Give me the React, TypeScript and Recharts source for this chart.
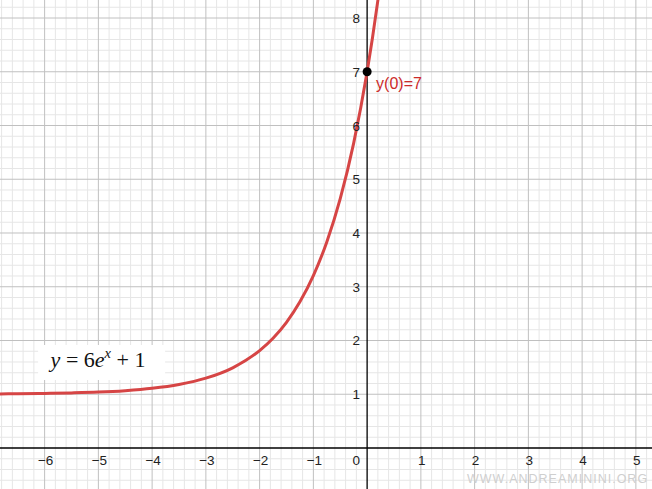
import React from "react";
import { ComposedChart, Line, XAxis, YAxis, ReferenceLine, ReferenceDot } from "recharts";

// Curve points: y = 6e^x + 1
const curveX = [-6.83, -6.5, -6, -5.5, -5, -4.5, -4, -3.5, -3, -2.5, -2, -1.75, -1.5, -1.25, -1, -0.75, -0.5, -0.25, 0, 0.1, 0.2, 0.25];
const curveY = [1.006, 1.009, 1.015, 1.025, 1.04, 1.067, 1.11, 1.181, 1.299, 1.492, 1.812, 2.042, 2.339, 2.719, 3.207, 3.834, 4.639, 5.673, 7.0, 7.631, 8.328, 8.704];

const xTickLabels = [-6, -5, -4, -3, -2, -1, 1, 2, 3, 4, 5];
const yTickLabels = [1, 2, 3, 4, 5, 6, 7, 8];
const xMajor = [-6, -5, -4, -3, -2, -1, 1, 2, 3, 4, 5];
const yMajor = [1, 2, 3, 4, 5, 6, 7, 8];

const xDomain: [number, number] = [-6.83, 5.3];
const yDomain: [number, number] = [-0.763, 8.335];

const pointX = 0;
const pointY = 7;
const pointLabel = "y(0)=7";

const data = curveX.map((x, i) => ({ x, y: curveY[i] }));

const xMinor: number[] = [];
for (let i = -34; i <= 26; i++) if (i % 5 !== 0) xMinor.push(i / 5);
const yMinor: number[] = [];
for (let i = -3; i <= 41; i++) if (i % 5 !== 0) yMinor.push(i / 5);

const minus = (n: number) => (n < 0 ? "\u2212" + Math.abs(n) : String(n));
const FONT = "'Liberation Sans', Arial, sans-serif";
const RED = "#d64545";

export default function App() {
  return (
    <div style={{ position: "absolute", left: 0, top: 0, width: 652, height: 489, background: "#fff" }}>
      <ComposedChart width={652} height={489} data={data} margin={{ top: 0, right: 0, bottom: 0, left: 0 }}>
        <XAxis type="number" dataKey="x" domain={xDomain} hide allowDataOverflow />
        <YAxis type="number" domain={yDomain} hide allowDataOverflow />
        {xMinor.map((v) => (
          <ReferenceLine key={"xm" + v} x={v} stroke="#e6e6e6" strokeWidth={1} ifOverflow="hidden" />
        ))}
        {yMinor.map((v) => (
          <ReferenceLine key={"ym" + v} y={v} stroke="#e6e6e6" strokeWidth={1} ifOverflow="hidden" />
        ))}
        {xMajor.map((v) => (
          <ReferenceLine key={"xM" + v} x={v} stroke="#c0c0c0" strokeWidth={1} />
        ))}
        {yMajor.map((v) => (
          <ReferenceLine key={"yM" + v} y={v} stroke="#c0c0c0" strokeWidth={1} />
        ))}
        <ReferenceLine x={0} stroke="#000" strokeWidth={1.3} />
        <ReferenceLine y={0} stroke="#000" strokeWidth={1.3} />
        {xTickLabels.map((t) => (
          <ReferenceDot
            key={"xl" + t}
            x={t}
            y={0}
            r={0}
            shape={(p: any) => (
              <text x={p.cx + 1} y={p.cy + 17} textAnchor="middle" fontFamily={FONT} fontSize={13.5} fill="#222">
                {minus(t)}
              </text>
            )}
          />
        ))}
        {yTickLabels.map((t) => (
          <ReferenceDot
            key={"yl" + t}
            x={0}
            y={t}
            r={0}
            shape={(p: any) => (
              <text x={p.cx - 7} y={p.cy + 5} textAnchor="end" fontFamily={FONT} fontSize={13.5} fill="#222">
                {minus(t)}
              </text>
            )}
          />
        ))}
        <ReferenceDot
          x={0}
          y={0}
          r={0}
          shape={(p: any) => (
            <text x={p.cx - 7} y={p.cy + 17} textAnchor="end" fontFamily={FONT} fontSize={13.5} fill="#222">
              0
            </text>
          )}
        />
        <ReferenceDot
          x={-6}
          y={1.6}
          r={0}
          shape={(p: any) => (
            <g>
              <rect x={p.cx - 6.5} y={p.cy - 17} width={127} height={35} fill="#fff" />
              <text x={p.cx + 6} y={p.cy + 5} fontFamily="'Liberation Serif', 'DejaVu Serif', serif" fontSize={22} fill="#111">
                <tspan fontStyle="italic">y</tspan>
                <tspan> = 6</tspan>
                <tspan fontStyle="italic">e</tspan>
                <tspan fontStyle="italic" fontSize={14.5} dy={-9}>x</tspan>
                <tspan dy={9}> + 1</tspan>
              </text>
            </g>
          )}
        />
        <Line
          type="monotone"
          dataKey="y"
          stroke={RED}
          strokeWidth={3}
          dot={false}
          activeDot={false}
          isAnimationActive={false}
        />
        <ReferenceDot
          x={pointX}
          y={pointY}
          r={0}
          shape={(p: any) => (
            <g>
              <circle cx={p.cx} cy={p.cy} r={4.5} fill="#000" />
              <text x={p.cx + 9} y={p.cy + 17.5} fontFamily={FONT} fontSize={16} fill="#cc2a2a">
                {pointLabel}
              </text>
            </g>
          )}
        />
      </ComposedChart>
      <div
        style={{
          position: "absolute",
          left: 467,
          top: 471,
          width: 156,
          fontFamily: FONT,
          fontSize: 12.5,
          letterSpacing: 1,
          color: "#cfcfcf",
          whiteSpace: "nowrap",
          lineHeight: "16px",
        }}
      >
        WWW.ANDREAMININI.ORG
      </div>
    </div>
  );
}
